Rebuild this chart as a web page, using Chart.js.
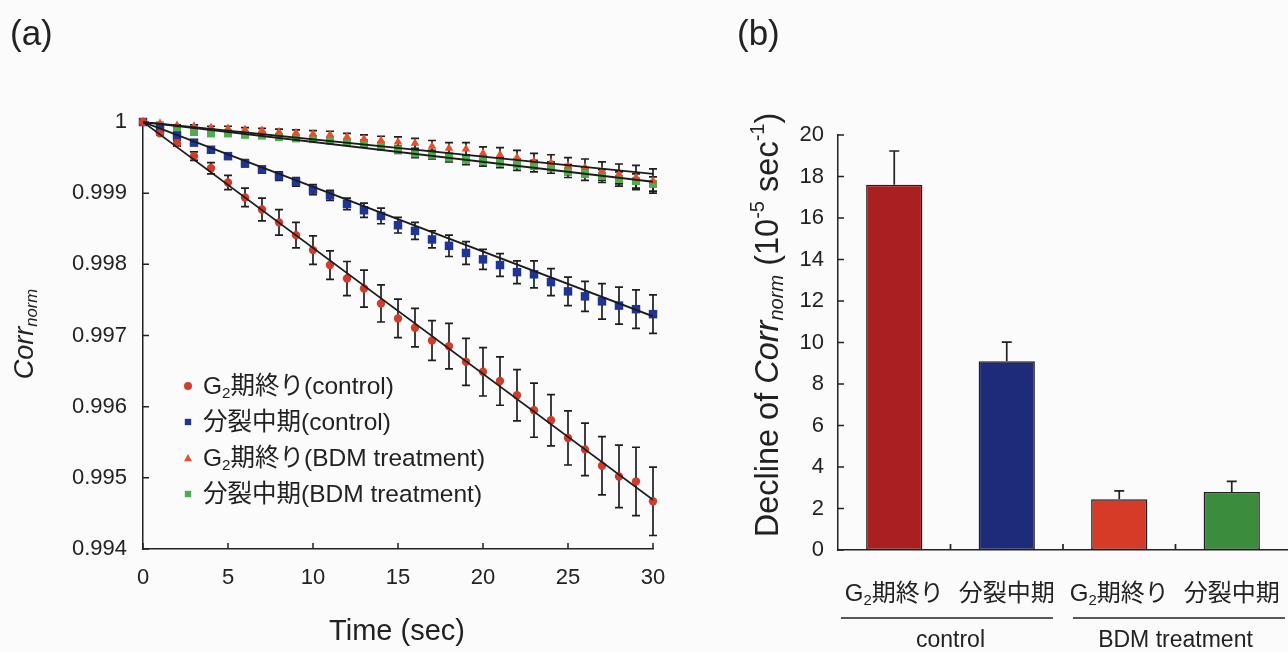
<!DOCTYPE html>
<html>
<head>
<meta charset="utf-8">
<script src="https://cdn.jsdelivr.net/npm/chart.js@4.4.0/dist/chart.umd.min.js"></script>
<style>
html, body { margin: 0; padding: 0; background: #fbfbfb; }
#wrap { position: relative; width: 1288px; height: 652px; overflow: hidden; }
canvas { position: absolute; top: 0; }
#chartA { left: 0; }
#chartB { left: 700px; }
.panel { position: absolute; font-family: "Liberation Sans", Arial, sans-serif; font-size: 35px; line-height: 40px; color: #222; }
</style>
</head>
<body>
<div id="wrap">
  <canvas id="chartA" width="700" height="652" style="width:700px;height:652px"></canvas>
  <canvas id="chartB" width="588" height="652" style="width:588px;height:652px"></canvas>
  <div class="panel" style="left:10px;top:13px">(a)</div>
  <div class="panel" style="left:737px;top:13px">(b)</div>
</div>
<script>
/* --- data --- */
const timeSec = [0,1,2,3,4,5,6,7,8,9,10,11,12,13,14,15,16,17,18,19,20,21,22,23,24,25,26,27,28,29,30];

const g2Control = [1, 0.99984, 0.99970, 0.99952, 0.99935, 0.99915, 0.99894, 0.99877, 0.99859, 0.99841, 0.99820,
  0.99799, 0.99780, 0.99766, 0.99745, 0.99724, 0.99711, 0.99693, 0.99685, 0.99663, 0.99649,
  0.99636, 0.99616, 0.99595, 0.99581, 0.99556, 0.99540, 0.99517, 0.99502, 0.99495, 0.99467];
const g2ControlErr = [0, 0.00002, 0.00004, 0.00006, 0.00008, 0.0001, 0.00013, 0.00016, 0.00018, 0.00018, 0.0002,
  0.0002, 0.00024, 0.00026, 0.00026, 0.00027, 0.00027, 0.00028, 0.00032, 0.00033, 0.00034,
  0.00034, 0.00036, 0.00038, 0.00036, 0.00038, 0.00037, 0.00041, 0.00044, 0.00048, 0.00048];

const mControl = [1, 0.99990, 0.99981, 0.99971, 0.99961, 0.99952, 0.99942, 0.99933, 0.99924, 0.99916, 0.99905,
  0.99897, 0.99885, 0.99876, 0.99868, 0.99855, 0.99847, 0.99835, 0.99826, 0.99816, 0.99807,
  0.99799, 0.99789, 0.99786, 0.99775, 0.99762, 0.99755, 0.99748, 0.99742, 0.99737, 0.99730];
const mControlErr = [0, 0.00001, 0.00002, 0.00003, 0.00003, 0.00004, 0.00005, 0.00005, 0.00006, 0.00006, 0.00007,
  0.00007, 0.00008, 0.0001, 0.00011, 0.00011, 0.00012, 0.00012, 0.00015, 0.00016, 0.00014,
  0.00016, 0.00016, 0.00019, 0.00019, 0.0002, 0.00021, 0.00025, 0.00026, 0.00027, 0.00027];

const g2Bdm = [1, 0.99998, 0.99995, 0.99994, 0.99992, 0.99991, 0.99989, 0.99988, 0.99986, 0.99985, 0.99983,
  0.99982, 0.99979, 0.99976, 0.99974, 0.99972, 0.99970, 0.99966, 0.99963, 0.99962, 0.99956,
  0.99954, 0.99950, 0.99945, 0.99943, 0.99938, 0.99936, 0.99931, 0.99927, 0.99922, 0.99917];
const g2BdmErr = [0, 0.00001, 0.00001, 0.00002, 0.00002, 0.00003, 0.00003, 0.00003, 0.00004, 0.00004, 0.00005,
  0.00005, 0.00005, 0.00006, 0.00006, 0.00007, 0.00007, 0.00008, 0.00008, 0.00009, 0.00009,
  0.0001, 0.0001, 0.00011, 0.00011, 0.00012, 0.00012, 0.00013, 0.00014, 0.00017, 0.00017];

const mBdm = [1, 0.99995, 0.99989, 0.99986, 0.99984, 0.99984, 0.99982, 0.99981, 0.99979, 0.99977, 0.99976,
  0.99974, 0.99972, 0.99970, 0.99966, 0.99961, 0.99956, 0.99954, 0.99950, 0.99947, 0.99945,
  0.99943, 0.99940, 0.99938, 0.99936, 0.99931, 0.99927, 0.99924, 0.99920, 0.99917, 0.99913];
const mBdmErr = [0, 0.00001, 0.00001, 0.00001, 0.00002, 0.00002, 0.00002, 0.00003, 0.00003, 0.00003, 0.00004,
  0.00004, 0.00004, 0.00005, 0.00005, 0.00005, 0.00006, 0.00006, 0.00006, 0.00007, 0.00007,
  0.00007, 0.00008, 0.00008, 0.00008, 0.00009, 0.00009, 0.00009, 0.0001, 0.0001, 0.0001];

// linear fits: value at t = 0 and t = 30
const fitTime = [0, 30];
const g2ControlFit = [1, 0.99469];
const mControlFit = [1, 0.99727];
const g2BdmFit = [1, 0.99927];
const mBdmFit = [1, 0.99916];

const yTicksA = [0.994, 0.995, 0.996, 0.997, 0.998, 0.999, 1];
const seriesNames = ['G2期終り(control)', '分裂中期(control)', 'G2期終り(BDM treatment)', '分裂中期(BDM treatment)'];

// panel (b)
const barLabels = ['G2期終り', '分裂中期', 'G2期終り', '分裂中期'];
const declineRate = [17.6, 9.1, 2.45, 2.8];
const declineErr = [1.63, 0.92, 0.4, 0.51];
const groupLabels = ['control', 'BDM treatment'];

const FONT = '"Liberation Sans", Arial, "Noto Sans CJK JP", sans-serif';
const INK = '#222';

/* --- rich text helper (italic / sub / sup runs) --- */
function segFont(s, size) {
  const px = (s.sub || s.sup) ? size * 0.62 : size;
  return (s.i ? 'italic ' : '') + px.toFixed(1) + 'px ' + FONT;
}
function drawRich(ctx, segs, x, y, size, align) {
  let w = 0;
  segs.forEach(s => { ctx.font = segFont(s, size); w += ctx.measureText(s.t).width; });
  let cx = align === 'center' ? x - w / 2 : (align === 'right' ? x - w : x);
  ctx.textAlign = 'left';
  ctx.textBaseline = 'alphabetic';
  segs.forEach(s => {
    ctx.font = segFont(s, size);
    const dy = s.sub ? size * 0.15 : (s.sup ? -size * 0.42 : 0);
    ctx.fillText(s.t, cx, y + dy);
    cx += ctx.measureText(s.t).width;
  });
}
// "G2..." -> G with subscript 2
function g2Segs(label) {
  if (label.startsWith('G2')) return [{ t: 'G' }, { t: '2', sub: true }, { t: label.slice(2) }];
  return [{ t: label }];
}

/* --- panel (a) plugins --- */
const errorBarsA = {
  id: 'errorBarsA',
  beforeDatasetsDraw(chart) {
    const { ctx, scales: { x, y } } = chart;
    ctx.save();
    ctx.strokeStyle = '#1e1e1e';
    ctx.lineWidth = 1.7;
    chart.data.datasets.forEach(ds => {
      if (!ds.errors) return;
      ds.data.forEach((p, i) => {
        const e = ds.errors[i];
        if (!e) return;
        const px = x.getPixelForValue(p.x);
        const top = y.getPixelForValue(p.y + e);
        const bot = y.getPixelForValue(p.y - e);
        ctx.beginPath();
        ctx.moveTo(px, top); ctx.lineTo(px, bot);
        ctx.moveTo(px - 4, top); ctx.lineTo(px + 4, top);
        ctx.moveTo(px - 4, bot); ctx.lineTo(px + 4, bot);
        ctx.stroke();
      });
    });
    ctx.restore();
  }
};

function drawMarker(ctx, style, x, y, r) {
  ctx.beginPath();
  if (style === 'circle') ctx.arc(x, y, r, 0, Math.PI * 2);
  else if (style === 'triangle') { ctx.moveTo(x, y - r); ctx.lineTo(x + r, y + r * 0.8); ctx.lineTo(x - r, y + r * 0.8); ctx.closePath(); }
  else ctx.rect(x - r * 0.8, y - r * 0.8, r * 1.6, r * 1.6);
  ctx.fill();
}

const decorA = {
  id: 'decorA',
  afterDraw(chart) {
    const { ctx, chartArea: ca, scales: { x, y } } = chart;
    ctx.save();
    // inward tick marks
    ctx.strokeStyle = INK; ctx.lineWidth = 1.5;
    ctx.beginPath();
    x.ticks.forEach(t => { const px = x.getPixelForValue(t.value); ctx.moveTo(px, ca.bottom); ctx.lineTo(px, ca.bottom - 6); });
    y.ticks.forEach(t => { const py = y.getPixelForValue(t.value); ctx.moveTo(ca.left, py); ctx.lineTo(ca.left + 6, py); });
    ctx.stroke();

    ctx.fillStyle = INK;
    // x title
    drawRich(ctx, [{ t: 'Time (sec)' }], 397, 640, 29, 'center');
    // y title
    ctx.save();
    ctx.translate(33, 334);
    ctx.rotate(-Math.PI / 2);
    drawRich(ctx, [{ t: 'Corr', i: true }, { t: 'norm', i: true, sub: true }], 0, 0, 27, 'center');
    ctx.restore();

    // legend inside plot
    const sets = chart.data.datasets.filter(d => d.errors);
    sets.forEach((ds, k) => {
      const cy = 386 + k * 36;
      ctx.fillStyle = ds.backgroundColor;
      drawMarker(ctx, ds.pointStyle, ca.left + 45, cy, 4);
      ctx.fillStyle = INK;
      drawRich(ctx, g2Segs(ds.label), ca.left + 60, cy + 8, 24.5, 'left');
    });
    ctx.restore();
  }
};

function pts(arr) { return timeSec.map((t, i) => ({ x: t, y: arr[i] })); }
function fitPts(arr) { return fitTime.map((t, i) => ({ x: t, y: arr[i] })); }

function fitSet(arr) {
  return { data: fitPts(arr), showLine: true, borderColor: '#1c1c1c', borderWidth: 1.8, pointRadius: 0, order: 0 };
}
function pointSet(label, arr, err, color, style, r) {
  return { label, data: pts(arr), errors: err, backgroundColor: color, borderWidth: 0,
    pointStyle: style, pointRadius: r, clip: false, order: 1 };
}

new Chart(document.getElementById('chartA'), {
  type: 'scatter',
  data: {
    datasets: [
      fitSet(g2ControlFit), fitSet(mControlFit), fitSet(g2BdmFit), fitSet(mBdmFit),
      pointSet(seriesNames[0], g2Control, g2ControlErr, '#d23c2a', 'circle', 4.2),
      pointSet(seriesNames[1], mControl, mControlErr, '#1f3596', 'rect', 6),
      pointSet(seriesNames[2], g2Bdm, g2BdmErr, '#e4502c', 'triangle', 5),
      pointSet(seriesNames[3], mBdm, mBdmErr, '#4cae4c', 'rect', 5.7)
    ]
  },
  options: {
    responsive: false,
    animation: false,
    layout: { padding: { left: 0, top: 122, right: 47, bottom: 0 } },
    plugins: { legend: { display: false }, tooltip: { enabled: false } },
    scales: {
      x: {
        type: 'linear', min: 0, max: 30,
        afterFit: s => { s.height = 103; },
        ticks: { stepSize: 5, color: INK, font: { size: 22, family: FONT }, padding: 16, maxRotation: 0 },
        grid: { display: false, drawTicks: false },
        border: { color: INK, width: 1.5 }
      },
      y: {
        min: 0.994, max: 1,
        afterFit: s => { s.width = 143; },
        afterBuildTicks: s => { s.ticks = yTicksA.map(v => ({ value: v })); },
        ticks: { color: INK, font: { size: 22, family: FONT }, padding: 16, callback: v => String(+v.toFixed(3)) },
        grid: { display: false, drawTicks: false },
        border: { color: INK, width: 1.5 }
      }
    }
  },
  plugins: [errorBarsA, decorA]
});

/* --- panel (b) --- */
const decorB = {
  id: 'decorB',
  afterDatasetsDraw(chart) {
    const { ctx, chartArea: ca, scales: { x, y } } = chart;
    ctx.save();
    // upper error bars
    ctx.strokeStyle = INK; ctx.lineWidth = 1.7;
    ctx.beginPath();
    declineRate.forEach((v, i) => {
      const px = x.getPixelForValue(i);
      const top = y.getPixelForValue(v + declineErr[i]);
      ctx.moveTo(px, y.getPixelForValue(v)); ctx.lineTo(px, top);
      ctx.moveTo(px - 5, top); ctx.lineTo(px + 5, top);
    });
    ctx.stroke();

    // inward ticks
    ctx.beginPath();
    y.ticks.forEach(t => { const py = y.getPixelForValue(t.value); ctx.moveTo(ca.left, py); ctx.lineTo(ca.left + 6, py); });
    for (let i = 0; i < barLabels.length - 1; i++) {
      const bx = (x.getPixelForValue(i) + x.getPixelForValue(i + 1)) / 2;
      ctx.moveTo(bx, ca.bottom); ctx.lineTo(bx, ca.bottom - 6);
    }
    ctx.stroke();

    // category labels
    ctx.fillStyle = INK;
    barLabels.forEach((lab, i) => drawRich(ctx, g2Segs(lab), x.getPixelForValue(i), 601, 24, 'center'));

    // group lines and labels
    const half = (x.getPixelForValue(1) - x.getPixelForValue(0)) / 2;
    groupLabels.forEach((lab, g) => {
      const l = x.getPixelForValue(g * 2) - half;
      const r = x.getPixelForValue(g * 2 + 1) + half;
      ctx.beginPath();
      ctx.lineWidth = 1.4;
      ctx.moveTo(l + (g === 0 ? 3 : 10), 618);
      ctx.lineTo(r - (g === 0 ? 10 : 3), 618);
      ctx.stroke();
      drawRich(ctx, [{ t: lab }], (l + r) / 2, 647, 23, 'center');
    });

    // y title
    ctx.save();
    ctx.translate(78, 325);
    ctx.rotate(-Math.PI / 2);
    drawRich(ctx, [
      { t: 'Decline of ' }, { t: 'Corr', i: true }, { t: 'norm', i: true, sub: true },
      { t: ' (10' }, { t: '-5', sup: true }, { t: ' sec' }, { t: '-1', sup: true }, { t: ')' }
    ], 0, 0, 32.5, 'center');
    ctx.restore();
    ctx.restore();
  }
};

new Chart(document.getElementById('chartB'), {
  type: 'bar',
  data: {
    labels: barLabels,
    datasets: [{
      data: declineRate,
      backgroundColor: ['#aa2020', '#1d2b7a', '#d53b27', '#3b8c3d'],
      borderColor: '#1e1e1e',
      borderWidth: 1.5,
      borderSkipped: false,
      barPercentage: 0.5,
      categoryPercentage: 1
    }]
  },
  options: {
    responsive: false,
    animation: false,
    layout: { padding: { left: 0, top: 135, right: 0, bottom: 0 } },
    plugins: { legend: { display: false }, tooltip: { enabled: false } },
    scales: {
      x: {
        afterFit: s => { s.height = 102; },
        ticks: { display: false },
        grid: { display: false, drawTicks: false },
        border: { color: INK, width: 1.5 }
      },
      y: {
        min: 0, max: 20,
        afterFit: s => { s.width = 138; },
        ticks: { stepSize: 2, color: INK, font: { size: 22, family: FONT }, padding: 14 },
        grid: { display: false, drawTicks: false },
        border: { color: INK, width: 1.5 }
      }
    }
  },
  plugins: [decorB]
});
</script>
</body>
</html>
